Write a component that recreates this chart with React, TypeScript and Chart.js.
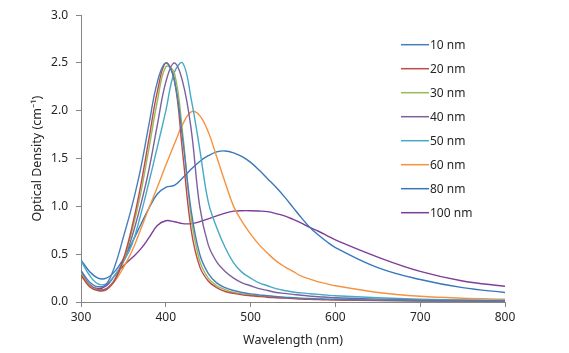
import React, { useEffect, useRef } from "react";
import { Chart, registerables } from "chart.js";

Chart.register(...registerables);

const wavelengths = [300, 310, 320, 330, 340, 350, 360, 370, 380, 390, 400, 410, 420, 430, 440, 450, 460, 470, 480, 490, 500, 510, 520, 530, 540, 550, 560, 570, 580, 590, 600, 650, 700, 750, 800];

const nm10 = [0.33, 0.21, 0.16, 0.19, 0.38, 0.68, 1.0, 1.38, 1.85, 2.3, 2.5, 2.32, 1.7, 0.95, 0.5, 0.3, 0.2, 0.15, 0.12, 0.1, 0.085, 0.075, 0.065, 0.057, 0.05, 0.045, 0.04, 0.036, 0.033, 0.03, 0.028, 0.02, 0.015, 0.012, 0.01];
const nm20 = [0.28, 0.16, 0.12, 0.13, 0.23, 0.45, 0.78, 1.2, 1.7, 2.2, 2.5, 2.33, 1.55, 0.75, 0.37, 0.22, 0.15, 0.11, 0.09, 0.075, 0.065, 0.057, 0.05, 0.045, 0.04, 0.035, 0.03, 0.027, 0.025, 0.022, 0.02, 0.015, 0.01, 0.01, 0.01];
const nm30 = [0.3, 0.17, 0.12, 0.13, 0.23, 0.43, 0.74, 1.12, 1.6, 2.1, 2.46, 2.4, 1.75, 0.88, 0.43, 0.25, 0.17, 0.13, 0.1, 0.085, 0.075, 0.065, 0.055, 0.05, 0.045, 0.04, 0.035, 0.032, 0.03, 0.027, 0.025, 0.018, 0.012, 0.01, 0.01];
const nm40 = [0.32, 0.18, 0.13, 0.14, 0.24, 0.43, 0.68, 1.0, 1.38, 1.85, 2.3, 2.5, 2.3, 1.8, 1.0, 0.6, 0.42, 0.32, 0.25, 0.2, 0.17, 0.14, 0.12, 0.1, 0.09, 0.08, 0.07, 0.062, 0.055, 0.05, 0.045, 0.03, 0.02, 0.015, 0.012];
const nm50 = [0.43, 0.28, 0.19, 0.19, 0.28, 0.42, 0.6, 0.9, 1.25, 1.62, 2.0, 2.4, 2.5, 2.12, 1.6, 1.05, 0.78, 0.57, 0.41, 0.31, 0.25, 0.2, 0.17, 0.14, 0.12, 0.105, 0.095, 0.087, 0.08, 0.072, 0.065, 0.045, 0.03, 0.022, 0.018];
const nm60 = [0.3, 0.18, 0.13, 0.14, 0.22, 0.36, 0.53, 0.75, 0.98, 1.2, 1.43, 1.65, 1.86, 1.99, 1.95, 1.78, 1.52, 1.25, 1.0, 0.84, 0.71, 0.6, 0.51, 0.43, 0.37, 0.32, 0.27, 0.24, 0.21, 0.19, 0.17, 0.1, 0.06, 0.04, 0.03];
const nm80 = [0.44, 0.32, 0.25, 0.25, 0.32, 0.45, 0.62, 0.8, 0.98, 1.13, 1.2, 1.22, 1.3, 1.39, 1.47, 1.53, 1.57, 1.58, 1.56, 1.52, 1.46, 1.38, 1.29, 1.2, 1.1, 0.99, 0.88, 0.78, 0.7, 0.63, 0.57, 0.36, 0.235, 0.15, 0.1];
const nm100 = [0.3, 0.18, 0.14, 0.17, 0.28, 0.38, 0.46, 0.55, 0.67, 0.8, 0.85, 0.84, 0.82, 0.82, 0.84, 0.87, 0.9, 0.93, 0.95, 0.955, 0.955, 0.952, 0.945, 0.925, 0.9, 0.865, 0.825, 0.78, 0.74, 0.695, 0.65, 0.47, 0.32, 0.22, 0.165];

const seriesLabels = ["10 nm", "20 nm", "30 nm", "40 nm", "50 nm", "60 nm", "80 nm", "100 nm"];
const seriesValues = [nm10, nm20, nm30, nm40, nm50, nm60, nm80, nm100];
const seriesColors = ["#4A7EBB", "#BE4B48", "#98B954", "#7D60A0", "#46AAC5", "#F69240", "#3778BD", "#7E3E98"];

const FONT = "'Noto Sans', 'DejaVu Sans', sans-serif";
const TEXT = "#262626";

const legendPlugin = {
  id: "insideLegend",
  afterDraw(chart: any) {
    const ctx = chart.ctx;
    ctx.save();
    ctx.font = `12px ${FONT}`;
    ctx.textBaseline = "middle";
    ctx.textAlign = "left";
    chart.data.datasets.forEach((ds: any, i: number) => {
      const y = 44.7 + i * 24;
      ctx.strokeStyle = ds.borderColor;
      ctx.lineWidth = 1.5;
      ctx.beginPath();
      ctx.moveTo(401, y);
      ctx.lineTo(429, y);
      ctx.stroke();
      ctx.fillStyle = TEXT;
      ctx.fillText(ds.label, 430, y + 0.5);
    });
    ctx.restore();
  },
};

export default function App() {
  const ref = useRef<HTMLCanvasElement>(null);
  useEffect(() => {
    document.body.style.margin = "0";
    const canvas = ref.current!;
    const chart = new Chart(canvas, {
      type: "line",
      data: {
        datasets: seriesLabels.map((label, i) => ({
          label,
          data: wavelengths.map((w, j) => ({ x: w, y: seriesValues[i][j] })),
          borderColor: seriesColors[i],
          backgroundColor: seriesColors[i],
          borderWidth: 1.4,
          pointRadius: 0,
          fill: false,
          tension: 0.4,
        })),
      },
      options: {
        responsive: false,
        animation: false,
        devicePixelRatio: 1,
        layout: { padding: { left: 0, right: 64, top: 15, bottom: 0 } },
        plugins: { legend: { display: false }, tooltip: { enabled: false } },
        scales: {
          x: {
            type: "linear",
            min: 300,
            max: 800,
            ticks: { stepSize: 100, color: TEXT, font: { family: FONT, size: 12 }, padding: 3, maxRotation: 0 },
            grid: { display: true, drawOnChartArea: false, drawTicks: true, tickLength: 5, color: "#868686" },
            border: { display: true, color: "#868686", width: 1 },
            title: { display: true, text: "Wavelength (nm)", color: TEXT, font: { family: FONT, size: 12.5 }, padding: { top: 0, bottom: 5 } },
            afterFit: (s: any) => { s.height = 51; },
          },
          y: {
            type: "linear",
            min: 0,
            max: 3,
            ticks: { stepSize: 0.5, color: TEXT, font: { family: FONT, size: 12 }, padding: 8, callback: (v: any) => Number(v).toFixed(1) },
            grid: { display: true, drawOnChartArea: false, drawTicks: true, tickLength: 5, color: "#868686" },
            border: { display: true, color: "#868686", width: 1 },
            title: { display: true, text: "Optical Density (cm⁻¹)", color: TEXT, font: { family: FONT, size: 12.5 }, padding: { top: 30, bottom: 0 } },
            afterFit: (s: any) => { s.width = 81; },
          },
        },
      },
      plugins: [legendPlugin],
    });
    return () => chart.destroy();
  }, []);
  return <canvas ref={ref} width={569} height={353} style={{ display: "block" }} />;
}
